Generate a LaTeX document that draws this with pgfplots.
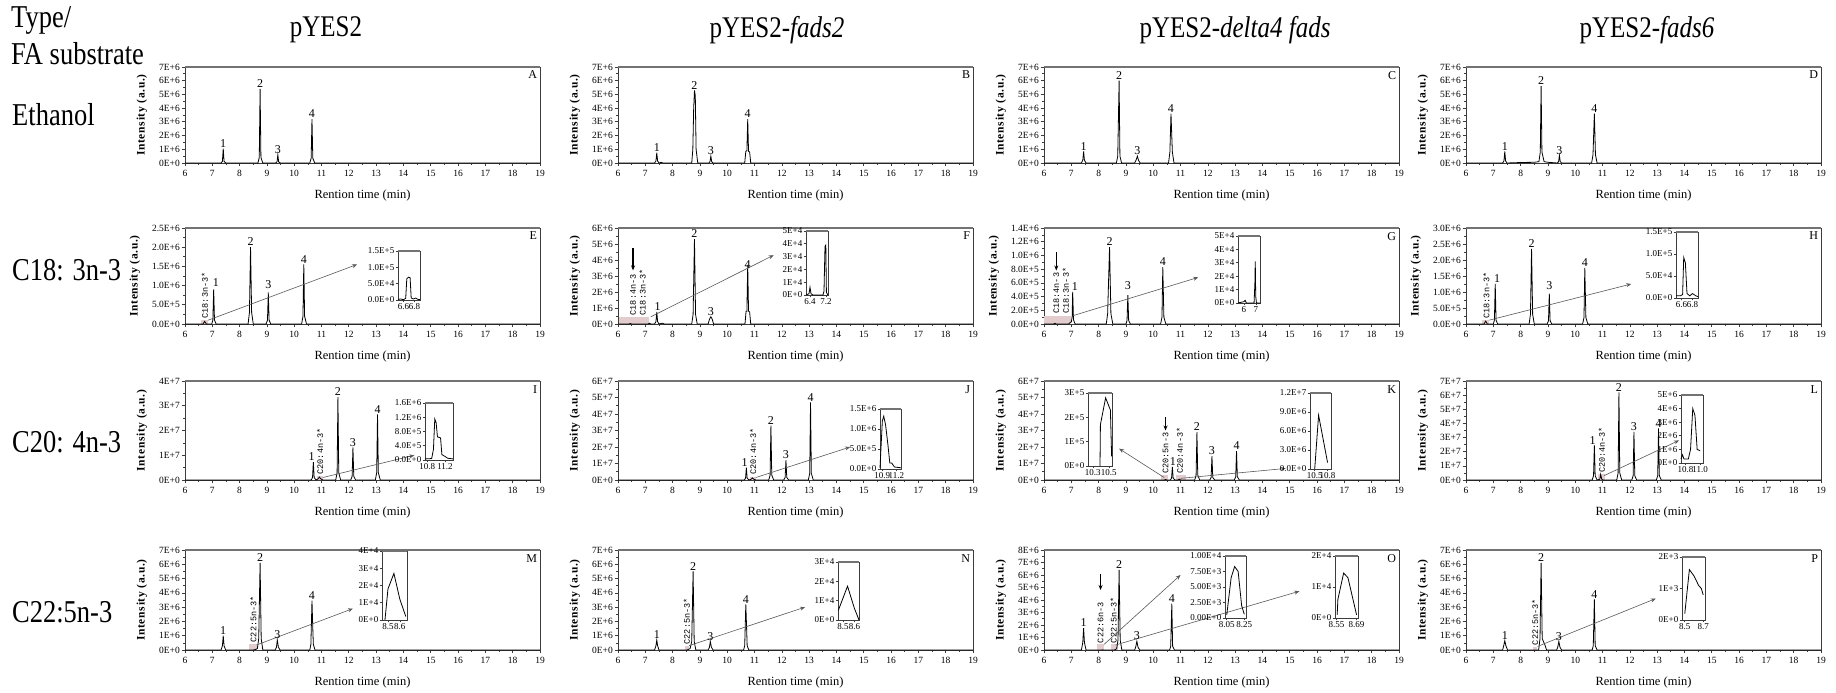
\documentclass[border=0pt]{standalone}
\usepackage{fontspec}
\setmainfont{Liberation Serif}
\setmonofont{Liberation Mono}
\usepackage{pgfplots}
\pgfplotsset{compat=1.18}
\usetikzlibrary{arrows.meta}

\definecolor{shd}{RGB}{226,204,206}
\definecolor{frm}{RGB}{60,60,60}

\pgfplotsset{
  panel/.style={scale only axis, width=355pt, xmin=6, xmax=19, ymin=0,
    xtick={6,...,19}, minor x tick num=1, minor y tick num=1,
    tick pos=left, tick align=outside,
    major tick length=3.5pt, minor tick length=2pt,
    axis line style={frm, line width=0.8pt},
    every tick/.style={frm, line width=0.7pt},
    tick label style={font=\fontsize{9.5}{10}\selectfont, inner sep=1.5pt},
    xticklabel shift=2pt,
    /pgf/number format/assume math mode=true, scaled y ticks=false,
    xlabel={Rention time (min)}, xlabel style={font=\fontsize{12.5}{12.5}\selectfont},
    xlabel shift=8pt,
    ylabel={Intensity (a.u.)},
    ylabel style={font=\bfseries\fontsize{11.5}{11.5}\selectfont\addfontfeatures{LetterSpace=6}},
    ylabel shift=7pt,
    clip=false,
    extra description/.code={\draw[line width=1.6pt, black!55] (0,1) -- (1,1);},
  },
  inset/.style={scale only axis, ymin=0, tick pos=left, tick align=outside,
    major tick length=2.5pt,
    axis line style={frm, line width=0.7pt},
    every tick/.style={frm, line width=0.6pt},
    tick label style={font=\fontsize{9}{9}\selectfont, inner sep=1pt},
    /pgf/number format/assume math mode=true, scaled y ticks=false,
    scaled x ticks=false, clip=false,
    extra description/.code={\draw[line width=1.6pt, black!55] (0,1) -- (1,1);},
  },
  sig/.style={black, line width=0.8pt},
}
\tikzset{
  lbl/.style={anchor=south, font=\fontsize{12}{12}\selectfont, inner sep=1pt},
  tag/.style={anchor=north east, font=\fontsize{12}{12}\selectfont, inner sep=1pt},
  rl/.style={rotate=90, anchor=west, font=\ttfamily\fontsize{8.5}{8.5}\selectfont, inner sep=0.5pt},
  arr/.style={-{Stealth[length=5pt,width=4pt]}, black!65, line width=0.6pt},
  darr/.style={-{Stealth[length=5pt,width=4pt]}, black, line width=1.1pt},
  big/.style={font=\fontsize{25}{25}\selectfont, inner sep=0pt, yscale=1.2},
  row/.style={font=\fontsize{26.5}{26.5}\selectfont, inner sep=0pt, yscale=1.2, anchor=west},
}

\begin{document}
\begin{tikzpicture}[x=1pt, y=1pt]
\useasboundingbox (0,0) rectangle (1836,693);

% row and column headings
\node[row] at (11,673) {Type/};
\node[row] at (11,639) {FA substrate};
\node[row] at (12,578) {Ethanol};
\node[row] at (12,423) {C18: 3n-3};
\node[row] at (12,251) {C20: 4n-3};
\node[row] at (12,81) {C22:5n-3};
\node[big] at (326,663) {pYES2};
\node[big] at (777,663) {pYES2-\textit{fads2}};
\node[big] at (1235,663) {pYES2-\textit{delta4 fads}};
\node[big] at (1647,663) {pYES2-\textit{fads6}};

%%%%%%%%%%%%%%%% row 1: ethanol
\begin{axis}[panel, at={(185pt,530pt)}, anchor=south west, height=96pt, ymax=7,
  ytick={0,...,7}, yticklabels={0E+0,1E+6,2E+6,3E+6,4E+6,5E+6,6E+6,7E+6}]
\addplot[sig] coordinates {(6,0)(7.32,0)(7.37,0.12)(7.4,1.05)(7.43,0.12)(7.49,0)
 (8.67,0)(8.72,0.4)(8.75,5.4)(8.78,0.4)(8.85,0)(9.32,0)(9.37,0.08)(9.4,0.6)(9.43,0.08)(9.49,0)
 (10.57,0)(10.62,0.35)(10.65,3.2)(10.68,0.35)(10.75,0)(19,0)};
\node[lbl] at (axis cs:7.4,1.05) {1};
\node[lbl] at (axis cs:8.75,5.4) {2};
\node[lbl] at (axis cs:9.4,0.6) {3};
\node[lbl] at (axis cs:10.65,3.2) {4};
\node[tag] at (rel axis cs:0.995,0.97) {A};
\end{axis}

\begin{axis}[panel, at={(618pt,530pt)}, anchor=south west, height=96pt, ymax=7,
  ytick={0,...,7}, yticklabels={0E+0,1E+6,2E+6,3E+6,4E+6,5E+6,6E+6,7E+6}]
\addplot[sig] coordinates {(6,0)(7.34,0)(7.39,0.15)(7.42,0.75)(7.45,0.15)(7.5,0)(7.58,0.05)(7.64,0)
 (8.7,0)(8.74,1.0)(8.77,3.9)(8.8,5.3)(8.83,4.9)(8.86,1.0)(8.92,0)(9.33,0)(9.37,0.1)(9.4,0.5)(9.43,0.1)(9.48,0)
 (10.64,0)(10.68,0.85)(10.72,0.9)(10.75,3.2)(10.78,0.85)(10.82,0.8)(10.86,0)(19,0)};
\node[lbl] at (axis cs:7.42,0.75) {1};
\node[lbl] at (axis cs:8.8,5.3) {2};
\node[lbl] at (axis cs:9.4,0.5) {3};
\node[lbl] at (axis cs:10.75,3.2) {4};
\node[tag] at (rel axis cs:0.995,0.97) {B};
\end{axis}

\begin{axis}[panel, at={(1044pt,530pt)}, anchor=south west, height=96pt, ymax=7,
  ytick={0,...,7}, yticklabels={0E+0,1E+6,2E+6,3E+6,4E+6,5E+6,6E+6,7E+6}]
\addplot[sig] coordinates {(6,0)(7.37,0)(7.42,0.2)(7.45,0.85)(7.48,0.2)(7.54,0)
 (8.65,0)(8.7,0.5)(8.75,6.0)(8.78,0.5)(8.84,0)(9.32,0)(9.37,0.2)(9.42,0.5)(9.46,0.2)(9.52,0)
 (10.56,0)(10.61,0.8)(10.65,3.6)(10.7,0.8)(10.76,0)(19,0)};
\node[lbl] at (axis cs:7.45,0.85) {1};
\node[lbl] at (axis cs:8.75,6.0) {2};
\node[lbl] at (axis cs:9.42,0.5) {3};
\node[lbl] at (axis cs:10.65,3.6) {4};
\node[tag] at (rel axis cs:0.995,0.97) {C};
\end{axis}

\begin{axis}[panel, at={(1466pt,530pt)}, anchor=south west, height=96pt, ymax=7,
  ytick={0,...,7}, yticklabels={0E+0,1E+6,2E+6,3E+6,4E+6,5E+6,6E+6,7E+6}]
\addplot[sig] coordinates {(6,0)(7.34,0)(7.39,0.15)(7.42,0.85)(7.45,0.15)(7.5,0)(8.1,0.04)(8.5,0.05)
 (8.67,0.1)(8.72,0.8)(8.75,5.6)(8.78,0.8)(8.86,0.1)(9.0,0.05)(9.34,0)(9.39,0.1)(9.42,0.55)(9.45,0.1)(9.5,0)
 (10.6,0)(10.65,0.6)(10.7,3.6)(10.74,0.6)(10.8,0)(19,0)};
\node[lbl] at (axis cs:7.42,0.85) {1};
\node[lbl] at (axis cs:8.75,5.6) {2};
\node[lbl] at (axis cs:9.42,0.55) {3};
\node[lbl] at (axis cs:10.7,3.6) {4};
\node[tag] at (rel axis cs:0.995,0.97) {D};
\end{axis}

%%%%%%%%%%%%%%%% row 2: C18:3n-3
\begin{axis}[panel, at={(185pt,369pt)}, anchor=south west, height=96pt, ymax=2.5,
  ytick={0,0.5,1,1.5,2,2.5}, yticklabels={0.0E+0,5.0E+5,1.0E+6,1.5E+6,2.0E+6,2.5E+6}]
\fill[shd] (axis cs:6.6,0) rectangle (axis cs:6.85,0.1);
\addplot[sig] coordinates {(6,0)(6.66,0)(6.72,0.07)(6.78,0)(6.98,0)(7.02,0.1)(7.05,0.9)(7.08,0.1)(7.14,0)
 (8.31,0)(8.36,0.3)(8.4,2.0)(8.44,0.3)(8.5,0)(8.97,0)(9.02,0.1)(9.05,0.82)(9.08,0.1)(9.14,0)
 (10.27,0)(10.32,0.2)(10.35,1.55)(10.38,0.2)(10.45,0)(19,0)};
\node[rl] at (axis cs:6.73,0.13) {C18:3n-3*};
\draw[arr] (axis cs:6.85,0.1) -- (axis cs:12.3,1.55);
\node[lbl] at (axis cs:7.13,0.95) {1};
\node[lbl] at (axis cs:8.4,2.0) {2};
\node[lbl] at (axis cs:9.05,0.9) {3};
\node[lbl] at (axis cs:10.35,1.55) {4};
\node[tag] at (rel axis cs:0.995,0.97) {E};
\end{axis}
\begin{axis}[inset, at={(398pt,393pt)}, anchor=south west, width=22pt, height=49pt,
  xmin=6.5, xmax=6.9, ymax=15, xtick={6.6,6.8}, xticklabels={6.6,6.8},
  ytick={0,5,10,15}, yticklabels={0.0E+0,5.0E+4,1.0E+5,1.5E+5}]
\addplot[sig] coordinates {(6.5,0.2)(6.55,0.3)(6.6,0.1)(6.64,0.5)(6.66,6.5)(6.69,7.0)(6.72,6.8)
 (6.74,0.6)(6.78,0.3)(6.82,0.6)(6.86,0.2)(6.9,0.1)};
\end{axis}

\begin{axis}[panel, at={(618pt,369pt)}, anchor=south west, height=96pt, ymax=6,
  ytick={0,...,6}, yticklabels={0E+0,1E+6,2E+6,3E+6,4E+6,5E+6,6E+6}]
\fill[shd] (axis cs:6.05,0) rectangle (axis cs:7.15,0.45);
\addplot[sig] coordinates {(6,0)(6.4,0)(6.45,0.03)(6.5,0)(7.1,0)(7.15,0.05)(7.2,0)
 (7.34,0)(7.39,0.15)(7.42,0.75)(7.45,0.15)(7.5,0)(7.62,0.05)(7.7,0)
 (8.7,0)(8.75,0.6)(8.8,5.3)(8.84,0.6)(8.9,0)(9.3,0)(9.35,0.3)(9.4,0.45)(9.45,0.3)(9.5,0)
 (10.65,0)(10.69,0.8)(10.72,0.8)(10.75,3.7)(10.78,0.8)(10.82,0.75)(10.86,0)(19,0)};
\draw[darr] (axis cs:6.55,4.75) -- (axis cs:6.55,3.35);
\node[rl] at (axis cs:6.55,0.5) {C18:4n-3};
\node[rl] at (axis cs:6.9,0.5) {C18:3n-3*};
\draw[arr] (axis cs:7.2,0.45) -- (axis cs:11.7,4.3);
\node[lbl] at (axis cs:7.45,0.75) {1};
\node[lbl] at (axis cs:8.8,5.3) {2};
\node[lbl] at (axis cs:9.4,0.45) {3};
\node[lbl] at (axis cs:10.75,3.4) {4};
\node[tag] at (rel axis cs:0.995,0.97) {F};
\end{axis}
\begin{axis}[inset, at={(806pt,398pt)}, anchor=south west, width=22pt, height=64pt,
  xmin=6.2, xmax=7.3, ymax=5, xtick={6.4,7.2}, xticklabels={6.4,7.2},
  ytick={0,...,5}, yticklabels={0E+0,1E+4,2E+4,3E+4,4E+4,5E+4}]
\addplot[sig] coordinates {(6.2,0)(6.35,0.1)(6.4,0.6)(6.45,0.1)(6.55,0)(7.05,0)(7.1,0.3)
 (7.15,3.8)(7.19,3.9)(7.22,0.2)(7.3,0)};
\end{axis}

\begin{axis}[panel, at={(1044pt,369pt)}, anchor=south west, height=96pt, ymax=1.4,
  ytick={0,0.2,0.4,0.6,0.8,1.0,1.2,1.4},
  yticklabels={0.0E+0,2.0E+5,4.0E+5,6.0E+5,8.0E+5,1.0E+6,1.2E+6,1.4E+6}]
\fill[shd] (axis cs:6.0,0) rectangle (axis cs:7.0,0.12);
\addplot[sig] coordinates {(6,0)(6.35,0)(6.4,0.01)(6.45,0)(6.9,0)(6.95,0.02)(7.0,0.03)(7.03,0.1)
 (7.05,0.47)(7.08,0.06)(7.14,0)(8.28,0)(8.33,0.15)(8.4,1.12)(8.45,0.15)(8.52,0)
 (9.0,0)(9.04,0.05)(9.07,0.42)(9.1,0.05)(9.16,0)(10.27,0)(10.32,0.1)(10.35,0.83)(10.39,0.1)(10.46,0)(19,0)};
\draw[darr] (axis cs:6.45,1.05) -- (axis cs:6.45,0.78);
\node[rl] at (axis cs:6.45,0.14) {C18:4n-3};
\node[rl] at (axis cs:6.8,0.14) {C18:3n-3*};
\draw[arr] (axis cs:7.05,0.12) -- (axis cs:11.65,0.68);
\node[lbl] at (axis cs:7.13,0.47) {1};
\node[lbl] at (axis cs:8.4,1.12) {2};
\node[lbl] at (axis cs:9.07,0.48) {3};
\node[lbl] at (axis cs:10.35,0.83) {4};
\node[tag] at (rel axis cs:0.995,0.97) {G};
\end{axis}
\begin{axis}[inset, at={(1238pt,390pt)}, anchor=south west, width=22pt, height=67pt,
  xmin=5.5, xmax=7.35, ymax=5, xtick={6,7}, xticklabels={6,7},
  ytick={0,...,5}, yticklabels={0E+0,1E+4,2E+4,3E+4,4E+4,5E+4}]
\addplot[sig] coordinates {(5.5,0)(6.0,0.1)(6.1,0.2)(6.2,0)(6.85,0)(6.92,1.5)(6.95,3.1)(6.99,0.5)(7.05,0)(7.35,0)};
\end{axis}

\begin{axis}[panel, at={(1466pt,369pt)}, anchor=south west, height=96pt, ymax=3,
  ytick={0,0.5,1,1.5,2,2.5,3}, yticklabels={0.0E+0,5.0E+5,1.0E+6,1.5E+6,2.0E+6,2.5E+6,3.0E+6}]
\fill[shd] (axis cs:6.6,0) rectangle (axis cs:6.85,0.12);
\addplot[sig] coordinates {(6,0)(6.66,0)(6.72,0.09)(6.78,0)(7.0,0)(7.04,0.12)(7.07,1.25)(7.1,0.12)(7.16,0)
 (8.31,0)(8.36,0.3)(8.4,2.35)(8.44,0.3)(8.5,0)(8.97,0)(9.02,0.1)(9.05,0.95)(9.08,0.1)(9.14,0)
 (10.27,0)(10.32,0.2)(10.35,1.75)(10.39,0.2)(10.46,0)(19,0)};
\node[rl] at (axis cs:6.74,0.15) {C18:3n-3*};
\draw[arr] (axis cs:6.85,0.12) -- (axis cs:12.05,1.25);
\node[lbl] at (axis cs:7.14,1.25) {1};
\node[lbl] at (axis cs:8.4,2.35) {2};
\node[lbl] at (axis cs:9.05,1.05) {3};
\node[lbl] at (axis cs:10.35,1.75) {4};
\node[tag] at (rel axis cs:0.995,0.97) {H};
\end{axis}
\begin{axis}[inset, at={(1676pt,395pt)}, anchor=south west, width=22pt, height=66pt,
  xmin=6.5, xmax=6.9, ymax=15, xtick={6.6,6.8}, xticklabels={6.6,6.8},
  ytick={0,5,10,15}, yticklabels={0.0E+0,5.0E+4,1.0E+5,1.5E+5}]
\addplot[sig] coordinates {(6.5,0.5)(6.58,0.5)(6.62,0.8)(6.64,9.2)(6.67,8.0)(6.7,1.0)(6.75,0.5)
 (6.8,1.0)(6.86,0.5)(6.9,0.3)};
\end{axis}

%%%%%%%%%%%%%%%% row 3: C20:4n-3
\begin{axis}[panel, at={(185pt,213pt)}, anchor=south west, height=99pt, ymax=4,
  ytick={0,...,4}, yticklabels={0E+0,1E+7,2E+7,3E+7,4E+7}]
\fill[shd] (axis cs:10.85,0) rectangle (axis cs:11.05,0.15);
\addplot[sig] coordinates {(6,0)(10.62,0)(10.67,0.1)(10.7,0.72)(10.73,0.1)(10.8,0)(10.88,0.05)(10.92,0.12)
 (10.97,0.05)(11.05,0)(11.52,0)(11.57,0.3)(11.6,3.35)(11.63,0.3)(11.7,0)(12.07,0)(12.12,0.15)(12.15,1.32)
 (12.18,0.15)(12.25,0)(12.97,0)(13.02,0.3)(13.05,2.65)(13.08,0.3)(13.15,0)(19,0)};
\node[rl] at (axis cs:10.95,0.2) {C20:4n-3*};
\draw[arr] (axis cs:11.05,0.1) -- (axis cs:14.4,1.0);
\node[lbl] at (axis cs:10.64,0.72) {1};
\node[lbl] at (axis cs:11.6,3.35) {2};
\node[lbl] at (axis cs:12.15,1.32) {3};
\node[lbl] at (axis cs:13.05,2.65) {4};
\node[tag] at (rel axis cs:0.995,0.97) {I};
\end{axis}
\begin{axis}[inset, at={(425pt,233pt)}, anchor=south west, width=28pt, height=57pt,
  xmin=10.75, xmax=11.38, ymax=16, xtick={10.8,11.2}, xticklabels={10.8,11.2},
  ytick={0,4,8,12,16}, yticklabels={0.0E+0,4.0E+5,8.0E+5,1.2E+6,1.6E+6}]
\addplot[sig] coordinates {(10.75,0.3)(10.9,0.4)(10.94,3)(10.97,11.5)(11.0,10.5)(11.03,6.5)
 (11.1,6.2)(11.13,1.5)(11.2,1.0)(11.26,0.5)(11.38,0.3)};
\end{axis}

\begin{axis}[panel, at={(618pt,213pt)}, anchor=south west, height=99pt, ymax=6,
  ytick={0,...,6}, yticklabels={0E+0,1E+7,2E+7,3E+7,4E+7,5E+7,6E+7}]
\fill[shd] (axis cs:10.85,0) rectangle (axis cs:11.05,0.2);
\addplot[sig] coordinates {(6,0)(10.62,0)(10.67,0.1)(10.7,0.75)(10.73,0.1)(10.8,0)(10.88,0.05)(10.92,0.13)
 (10.97,0.05)(11.05,0)(11.52,0)(11.57,0.3)(11.6,3.3)(11.63,0.3)(11.7,0)(12.07,0)(12.12,0.15)(12.15,1.2)
 (12.18,0.15)(12.25,0)(12.97,0)(13.02,0.4)(13.05,4.7)(13.08,0.4)(13.15,0)(19,0)};
\node[rl] at (axis cs:10.95,0.3) {C20:4n-3*};
\draw[arr] (axis cs:11.05,0.15) -- (axis cs:14.5,2.0);
\node[lbl] at (axis cs:10.64,0.75) {1};
\node[lbl] at (axis cs:11.6,3.3) {2};
\node[lbl] at (axis cs:12.15,1.2) {3};
\node[lbl] at (axis cs:13.05,4.7) {4};
\node[tag] at (rel axis cs:0.995,0.97) {J};
\end{axis}
\begin{axis}[inset, at={(880pt,224pt)}, anchor=south west, width=21pt, height=60pt,
  xmin=10.85, xmax=11.3, ymax=15, xtick={10.9,11.2}, xticklabels={10.9,11.2},
  ytick={0,5,10,15}, yticklabels={0.0E+0,5.0E+5,1.0E+6,1.5E+6}]
\addplot[sig] coordinates {(10.85,0.3)(10.9,12.0)(10.93,13.2)(10.97,11.0)(11.02,6.0)(11.06,1.5)
 (11.1,1.5)(11.16,0.5)(11.3,0.3)};
\end{axis}

\begin{axis}[panel, at={(1044pt,213pt)}, anchor=south west, height=99pt, ymax=6,
  ytick={0,...,6}, yticklabels={0E+0,1E+7,2E+7,3E+7,4E+7,5E+7,6E+7}]
\fill[shd] (axis cs:10.3,0) rectangle (axis cs:10.55,0.3);
\fill[shd] (axis cs:10.85,0) rectangle (axis cs:11.2,0.3);
\addplot[sig] coordinates {(6,0)(10.4,0)(10.45,0.03)(10.5,0)(10.62,0)(10.67,0.1)(10.7,0.8)(10.73,0.1)(10.8,0)
 (10.9,0)(10.95,0.05)(11.0,0)(11.52,0)(11.57,0.3)(11.6,2.9)(11.63,0.3)(11.7,0)(12.07,0)(12.12,0.15)
 (12.15,1.45)(12.18,0.15)(12.25,0)(12.97,0)(13.02,0.2)(13.05,1.75)(13.08,0.2)(13.15,0)(19,0)};
\draw[darr] (axis cs:10.45,3.8) -- (axis cs:10.45,3.0);
\node[rl] at (axis cs:10.45,0.35) {C20:5n-3};
\node[rl] at (axis cs:10.97,0.35) {C20:4n-3*};
\draw[arr] (axis cs:10.4,0.15) -- (axis cs:8.75,1.9);
\draw[arr] (axis cs:11.0,0.1) -- (axis cs:14.85,0.7);
\node[lbl] at (axis cs:10.72,0.8) {1};
\node[lbl] at (axis cs:11.6,2.9) {2};
\node[lbl] at (axis cs:12.15,1.45) {3};
\node[lbl] at (axis cs:13.05,1.75) {4};
\node[tag] at (rel axis cs:0.995,0.97) {K};
\end{axis}
\begin{axis}[inset, at={(1088pt,227pt)}, anchor=south west, width=24pt, height=73pt,
  xmin=10.24, xmax=10.54, ymax=3, xtick={10.3,10.5}, xticklabels={10.3,10.5},
  ytick={0,...,3}, yticklabels={0E+0,1E+5,2E+5,3E+5}]
\addplot[sig] coordinates {(10.39,0)(10.395,1.7)(10.46,2.8)(10.52,2.3)(10.535,0.4)};
\end{axis}
\begin{axis}[inset, at={(1310pt,224pt)}, anchor=south west, width=21pt, height=76pt,
  xmin=10.39, xmax=10.88, ymax=12, xtick={10.5,10.8}, xticklabels={10.5,10.8},
  ytick={0,3,6,9,12}, yticklabels={0.0E+0,3.0E+6,6.0E+6,9.0E+6,1.2E+7}]
\addplot[sig] coordinates {(10.5,0)(10.59,8.5)(10.8,1.0)};
\end{axis}

\begin{axis}[panel, at={(1466pt,213pt)}, anchor=south west, height=99pt, ymax=7,
  ytick={0,...,7}, yticklabels={0E+0,1E+7,2E+7,3E+7,4E+7,5E+7,6E+7,7E+7}]
\fill[shd] (axis cs:10.85,0) rectangle (axis cs:11.1,0.4);
\addplot[sig] coordinates {(6,0)(10.62,0)(10.67,0.3)(10.7,2.45)(10.73,0.3)(10.8,0)(10.9,0.05)(10.93,0.4)
 (10.97,0.05)(11.03,0)(11.52,0)(11.57,0.5)(11.6,6.2)(11.63,0.5)(11.7,0)(12.07,0)(12.12,0.3)(12.15,3.4)
 (12.18,0.3)(12.25,0)(12.97,0)(13.02,0.3)(13.05,3.65)(13.08,0.3)(13.15,0)(19,0)};
\node[rl] at (axis cs:10.97,0.45) {C20:4n-3*};
\draw[arr] (axis cs:11.05,0.3) -- (axis cs:13.8,2.8);
\node[lbl] at (axis cs:10.64,2.45) {1};
\node[lbl] at (axis cs:11.6,6.2) {2};
\node[lbl] at (axis cs:12.15,3.4) {3};
\node[lbl] at (axis cs:13.05,3.65) {4};
\node[tag] at (rel axis cs:0.995,0.97) {L};
\end{axis}
\begin{axis}[inset, at={(1681pt,230pt)}, anchor=south west, width=22pt, height=68pt,
  xmin=10.74, xmax=11.04, ymax=5, xtick={10.8,11.0}, xticklabels={10.8,11.0},
  ytick={0,...,5}, yticklabels={0E+0,1E+6,2E+6,3E+6,4E+6,5E+6}]
\addplot[sig] coordinates {(10.74,0.3)(10.76,0.6)(10.78,0.3)(10.84,0.3)(10.87,1.0)(10.9,4.0)
 (10.93,3.5)(10.96,1.0)(11.0,0.9)};
\end{axis}

%%%%%%%%%%%%%%%% row 4: C22:5n-3
\begin{axis}[panel, at={(185pt,43pt)}, anchor=south west, height=100pt, ymax=7,
  ytick={0,...,7}, yticklabels={0E+0,1E+6,2E+6,3E+6,4E+6,5E+6,6E+6,7E+6}]
\fill[shd] (axis cs:8.35,0) rectangle (axis cs:8.65,0.45);
\addplot[sig] coordinates {(6,0)(7.32,0)(7.37,0.3)(7.4,1.0)(7.43,0.3)(7.49,0)(8.5,0)(8.57,0.03)
 (8.65,0.1)(8.7,0.8)(8.75,6.1)(8.79,0.8)(8.85,0)(9.3,0)(9.35,0.2)(9.38,0.7)(9.42,0.2)(9.48,0)
 (10.57,0)(10.61,0.4)(10.65,3.45)(10.68,1.5)(10.7,0.4)(10.76,0)(19,0)};
\node[rl] at (axis cs:8.5,0.5) {C22:5n-3*};
\draw[arr] (axis cs:8.62,0.35) -- (axis cs:12.15,2.9);
\node[lbl] at (axis cs:7.4,1.0) {1};
\node[lbl] at (axis cs:8.75,6.1) {2};
\node[lbl] at (axis cs:9.38,0.7) {3};
\node[lbl] at (axis cs:10.65,3.45) {4};
\node[tag] at (rel axis cs:0.995,0.97) {M};
\end{axis}
\begin{axis}[inset, at={(382pt,73pt)}, anchor=south west, width=25pt, height=69pt,
  xmin=8.45, xmax=8.66, ymax=4, xtick={8.5,8.6}, xticklabels={8.5,8.6},
  ytick={0,...,4}, yticklabels={0E+0,1E+4,2E+4,3E+4,4E+4}]
\addplot[sig] coordinates {(8.475,0)(8.5,1.8)(8.55,2.7)(8.6,1.2)(8.65,0.2)};
\end{axis}

\begin{axis}[panel, at={(618pt,43pt)}, anchor=south west, height=100pt, ymax=7,
  ytick={0,...,7}, yticklabels={0E+0,1E+6,2E+6,3E+6,4E+6,5E+6,6E+6,7E+6}]
\fill[shd] (axis cs:8.45,0) rectangle (axis cs:8.6,0.3);
\addplot[sig] coordinates {(6,0)(7.34,0)(7.39,0.3)(7.42,0.7)(7.45,0.3)(7.5,0)(8.5,0)(8.56,0.02)
 (8.64,0.1)(8.7,0.6)(8.75,5.5)(8.79,0.6)(8.85,0)(9.3,0)(9.35,0.2)(9.38,0.6)(9.42,0.2)(9.48,0)
 (10.6,0)(10.64,0.3)(10.68,3.2)(10.71,1.5)(10.73,0.3)(10.79,0)(19,0)};
\node[rl] at (axis cs:8.52,0.35) {C22:5n-3*};
\draw[arr] (axis cs:8.6,0.3) -- (axis cs:12.85,3.0);
\node[lbl] at (axis cs:7.42,0.7) {1};
\node[lbl] at (axis cs:8.75,5.5) {2};
\node[lbl] at (axis cs:9.38,0.6) {3};
\node[lbl] at (axis cs:10.68,3.2) {4};
\node[tag] at (rel axis cs:0.995,0.97) {N};
\end{axis}
\begin{axis}[inset, at={(838pt,73pt)}, anchor=south west, width=21pt, height=58pt,
  xmin=8.457, xmax=8.64, ymax=3, xtick={8.5,8.6}, xticklabels={8.5,8.6},
  ytick={0,...,3}, yticklabels={0E+0,1E+4,2E+4,3E+4}]
\addplot[sig] coordinates {(8.46,0.5)(8.54,1.75)(8.6,0.6)(8.64,0)};
\end{axis}

\begin{axis}[panel, at={(1044pt,43pt)}, anchor=south west, height=100pt, ymax=8,
  ytick={0,...,8}, yticklabels={0E+0,1E+6,2E+6,3E+6,4E+6,5E+6,6E+6,7E+6,8E+6}]
\fill[shd] (axis cs:7.95,0) rectangle (axis cs:8.2,0.45);
\fill[shd] (axis cs:8.45,0) rectangle (axis cs:8.7,0.45);
\addplot[sig] coordinates {(6,0)(7.37,0)(7.42,0.6)(7.45,1.75)(7.48,0.6)(7.54,0)(8.1,0)(8.15,0.01)(8.2,0)
 (8.55,0)(8.6,0.015)(8.66,0.1)(8.71,0.8)(8.75,6.4)(8.79,0.8)(8.85,0)(9.32,0)(9.36,0.25)(9.4,0.7)
 (9.44,0.25)(9.5,0)(10.6,0)(10.64,0.3)(10.68,3.7)(10.71,0.3)(10.78,0)(19,0)};
\draw[darr] (axis cs:8.07,6.1) -- (axis cs:8.07,4.8);
\node[rl] at (axis cs:8.07,0.5) {C22:6n-3};
\node[rl] at (axis cs:8.55,0.5) {C22:5n-3*};
\draw[arr] (axis cs:8.2,0.45) -- (axis cs:11.0,6.0);
\draw[arr] (axis cs:8.62,0.4) -- (axis cs:15.35,4.7);
\node[lbl] at (axis cs:7.45,1.75) {1};
\node[lbl] at (axis cs:8.75,6.4) {2};
\node[lbl] at (axis cs:9.4,0.7) {3};
\node[lbl] at (axis cs:10.68,3.7) {4};
\node[tag] at (rel axis cs:0.995,0.97) {O};
\end{axis}
\begin{axis}[inset, at={(1225pt,75pt)}, anchor=south west, width=21pt, height=62pt,
  xmin=8.03, xmax=8.27, ymax=10, xtick={8.05,8.25}, xticklabels={8.05,8.25},
  ytick={0,2.5,5,7.5,10}, yticklabels={0.00E+0,2.50E+3,5.00E+3,7.50E+3,1.00E+4}]
\addplot[sig] coordinates {(8.05,0.5)(8.1,6.5)(8.14,8.3)(8.18,7.5)(8.22,2.0)(8.25,0.6)};
\end{axis}
\begin{axis}[inset, at={(1335pt,75pt)}, anchor=south west, width=23pt, height=62pt,
  xmin=8.54, xmax=8.70, ymax=2, xtick={8.55,8.69}, xticklabels={8.55,8.69},
  ytick={0,1,2}, yticklabels={0E+0,1E+4,2E+4}]
\addplot[sig] coordinates {(8.555,0.1)(8.56,0.6)(8.6,1.45)(8.63,1.3)(8.66,0.7)(8.69,0.1)};
\end{axis}

\begin{axis}[panel, at={(1466pt,43pt)}, anchor=south west, height=100pt, ymax=7,
  ytick={0,...,7}, yticklabels={0E+0,1E+6,2E+6,3E+6,4E+6,5E+6,6E+6,7E+6}]
\fill[shd] (axis cs:8.45,0) rectangle (axis cs:8.6,0.2);
\addplot[sig] coordinates {(6,0)(7.34,0)(7.38,0.3)(7.42,0.65)(7.46,0.3)(7.52,0)(8.66,0)(8.71,0.8)
 (8.75,6.1)(8.79,0.8)(8.9,0.3)(8.95,0)(9.32,0)(9.36,0.2)(9.4,0.6)(9.44,0.2)(9.5,0)
 (10.62,0)(10.66,0.3)(10.7,3.55)(10.73,0.3)(10.8,0)(19,0)};
\node[rl] at (axis cs:8.53,0.3) {C22:5n-3*};
\draw[arr] (axis cs:8.62,0.25) -- (axis cs:12.95,3.6);
\node[lbl] at (axis cs:7.42,0.65) {1};
\node[lbl] at (axis cs:8.75,6.1) {2};
\node[lbl] at (axis cs:9.4,0.6) {3};
\node[lbl] at (axis cs:10.7,3.55) {4};
\node[tag] at (rel axis cs:0.995,0.97) {P};
\end{axis}
\begin{axis}[inset, at={(1682pt,73pt)}, anchor=south west, width=23pt, height=63pt,
  xmin=8.47, xmax=8.72, ymax=2, xtick={8.5,8.7}, xticklabels={8.5,8.7},
  ytick={0,1,2}, yticklabels={0E+0,1E+3,2E+3}]
\addplot[sig] coordinates {(8.5,0.2)(8.55,1.6)(8.6,1.4)(8.65,1.1)(8.68,1.0)(8.7,0.8)};
\end{axis}

\end{tikzpicture}
\end{document}
